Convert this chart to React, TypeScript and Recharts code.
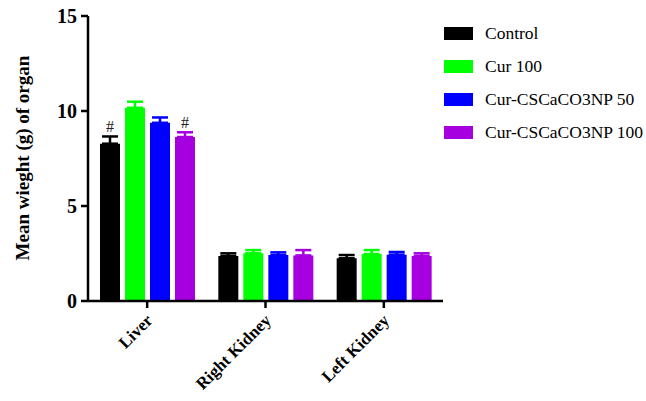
import { BarChart, Bar, XAxis, YAxis, ErrorBar, LabelList, Label } from "recharts";

const organs = ["Liver", "Right Kidney", "Left Kidney"];
const control = [8.28, 2.37, 2.25];
const controlErr = [0.38, 0.14, 0.17];
const cur100 = [10.17, 2.51, 2.47];
const cur100Err = [0.32, 0.17, 0.21];
const np50 = [9.38, 2.42, 2.44];
const np50Err = [0.28, 0.14, 0.14];
const np100 = [8.63, 2.4, 2.37];
const np100Err = [0.25, 0.28, 0.14];
const controlMark = ["#", "", ""];
const np100Mark = ["#", "", ""];

const series = [
  { key: "control", name: "Control", color: "#000000" },
  { key: "cur100", name: "Cur 100", color: "#00ff00" },
  { key: "np50", name: "Cur-CSCaCO3NP 50", color: "#0000ff" },
  { key: "np100", name: "Cur-CSCaCO3NP 100", color: "#a600e0" },
];

const data = organs.map((organ, i) => ({
  organ,
  control: control[i],
  controlErr: [0, controlErr[i]],
  controlMark: controlMark[i],
  cur100: cur100[i],
  cur100Err: [0, cur100Err[i]],
  np50: np50[i],
  np50Err: [0, np50Err[i]],
  np100: np100[i],
  np100Err: [0, np100Err[i]],
  np100Mark: np100Mark[i],
}));

const font = '"Liberation Serif", "Times New Roman", serif';
const pxPerUnit = 285 / 15;

const OrganTick = (props: any) => {
  const { x, y, payload } = props;
  return (
    <g transform={`translate(${x - 2},${y + 3}) rotate(-45)`}>
      <text x={0} y={0} dy="0.7em" textAnchor="end" fontFamily={font} fontWeight="bold" fontSize={17} fill="#000">
        {payload.value}
      </text>
    </g>
  );
};

const makeMark = (errs: number[]) => (props: any) => {
  const { x, y, width, value, index } = props;
  if (!value) return null;
  const top = y - errs[index] * pxPerUnit - 4;
  return (
    <text x={x + width / 2} y={top} textAnchor="middle" fontFamily={font} fontSize={16} fill="#222">
      {value}
    </text>
  );
};

export default function App() {
  return (
    <div style={{ position: "absolute", left: 0, top: 0, width: 646, height: 401, background: "#fff" }}>
      <BarChart
        width={646}
        height={401}
        data={data}
        margin={{ top: 16, right: 203, bottom: 0, left: 0 }}
        barSize={20}
        barGap={5}
      >
        <XAxis
          dataKey="organ"
          height={100}
          stroke="#000"
          strokeWidth={2.5}
          tickSize={7}
          tick={<OrganTick />}
          interval={0}
        />
        <YAxis
          width={88}
          domain={[0, 15]}
          ticks={[0, 5, 10, 15]}
          stroke="#000"
          strokeWidth={2.5}
          tickSize={7}
          tickMargin={4}
          tick={{ fontFamily: font, fontWeight: "bold", fontSize: 20, fill: "#000" }}
        >
          <Label
            content={() => (
              <text
                x={22}
                y={158}
                transform="rotate(-90, 22, 158)"
                textAnchor="middle"
                dominantBaseline="central"
                fontFamily={font}
                fontWeight="bold"
                fontSize={19}
                fill="#000"
              >
                Mean wieght (g) of organ
              </text>
            )}
          />
        </YAxis>
        <Bar dataKey="control" name="Control" fill="#000000" isAnimationActive={false}>
          <ErrorBar dataKey="controlErr" direction="y" width={8} stroke="#000000" strokeWidth={2.5} />
          <LabelList dataKey="controlMark" content={makeMark(controlErr)} />
        </Bar>
        <Bar dataKey="cur100" name="Cur 100" fill="#00ff00" isAnimationActive={false}>
          <ErrorBar dataKey="cur100Err" direction="y" width={8} stroke="#00ff00" strokeWidth={2.5} />
        </Bar>
        <Bar dataKey="np50" name="Cur-CSCaCO3NP 50" fill="#0000ff" isAnimationActive={false}>
          <ErrorBar dataKey="np50Err" direction="y" width={8} stroke="#0000ff" strokeWidth={2.5} />
        </Bar>
        <Bar dataKey="np100" name="Cur-CSCaCO3NP 100" fill="#a600e0" isAnimationActive={false}>
          <ErrorBar dataKey="np100Err" direction="y" width={8} stroke="#a600e0" strokeWidth={2.5} />
          <LabelList dataKey="np100Mark" content={makeMark(np100Err)} />
        </Bar>
      </BarChart>
      <div style={{ position: "absolute", left: 444, top: 17, fontFamily: font, fontSize: 17.5, color: "#000" }}>
        {series.map((s) => (
          <div key={s.key} style={{ display: "flex", alignItems: "center", height: 33 }}>
            <div style={{ width: 29, height: 13, background: s.color, marginRight: 12 }} />
            <span>{s.name}</span>
          </div>
        ))}
      </div>
    </div>
  );
}
